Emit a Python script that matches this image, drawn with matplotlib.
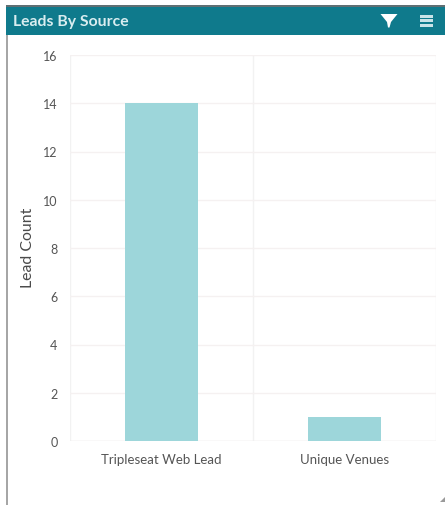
import matplotlib
matplotlib.use("Agg")
import matplotlib.pyplot as plt
from matplotlib.patches import Rectangle, Polygon

W, H = 445, 506

sources = ["Tripleseat Web Lead", "Unique Venues"]
lead_counts = [14, 1]
y_ticks = [0, 2, 4, 6, 8, 10, 12, 14, 16]

plt.rcParams["font.family"] = ["Lato", "DejaVu Sans"]


# pixel coordinates (top-left origin) to figure fractions
def fx(x):
    return x / W


def fy(y):
    return 1 - y / H


fig = plt.figure(figsize=(W / 100, H / 100), dpi=100, facecolor="white")

# panel frame
fig.add_artist(Rectangle((fx(5.5), 0), 2 / W, fy(36), transform=fig.transFigure,
                         facecolor="#a6a6a6", edgecolor="none"))

# header bar
fig.add_artist(Rectangle((fx(6), fy(36)), (W - 6) / W, 29 / H, transform=fig.transFigure,
                         facecolor="#0f7a8c", edgecolor="none"))
fig.add_artist(Rectangle((fx(6), fy(7.5)), (W - 6) / W, 1.5 / H, transform=fig.transFigure,
                         facecolor="#5f6f73", edgecolor="none"))
fig.text(fx(13), fy(22), "Leads By Source", color="#d9edf0", fontsize=11.3,
         fontweight="bold", va="center", ha="left")

# filter icon
fig.add_artist(Polygon([(fx(380.5), fy(15)), (fx(397.5), fy(15)), (fx(391), fy(23)),
                        (fx(389.5), fy(28.5)), (fx(388), fy(28.5)), (fx(387), fy(23))],
                       closed=True, transform=fig.transFigure,
                       facecolor="white", edgecolor="none"))

# menu icon
for top in (15.5, 20, 24.5):
    fig.add_artist(Rectangle((fx(419.5), fy(top + 3)), 13.5 / W, 3 / H, transform=fig.transFigure,
                             facecolor="#c9e4e8", edgecolor="none"))

# resize grip in the corner
fig.add_artist(Polygon([(fx(445), fy(498)), (fx(445), fy(503)), (fx(440), fy(503))],
                       closed=True, transform=fig.transFigure,
                       facecolor="#9a9a9a", edgecolor="none"))

# chart
ax = fig.add_axes([fx(70), fy(442), (436 - 70) / W, (442 - 56) / H])
positions = range(len(sources))
ax.bar(positions, lead_counts, width=0.4, color="#9dd6da", edgecolor="none", zorder=3)

ax.set_xlim(-0.5, 1.5)
ax.set_ylim(0, 16)
ax.set_yticks(y_ticks)
ax.set_xticks(list(positions))
ax.set_xticklabels(sources)
ax.tick_params(axis="both", length=0, labelcolor="#555555")
ax.tick_params(axis="x", pad=9, labelsize=9.5)
ax.tick_params(axis="y", pad=9, labelsize=9)

# horizontal grid plus category separators
ax.grid(axis="y", color="#f5f1f1", linewidth=1, zorder=0)
ax.axvline(0.5, color="#f2f2f2", linewidth=1, zorder=0)
ax.axvline(-0.5, color="#f2f2f2", linewidth=1, zorder=0)
ax.axvline(1.5, color="#f2f2f2", linewidth=1, zorder=0)
ax.axhline(0, color="#e8e8e8", linewidth=1, zorder=1)
for side in ax.spines.values():
    side.set_visible(False)

fig.text(fx(28), fy(248), "Lead Count", rotation=90, color="#4a4a4a", fontsize=11.4,
         va="center", ha="center")

fig.savefig("out.png", dpi=100)
